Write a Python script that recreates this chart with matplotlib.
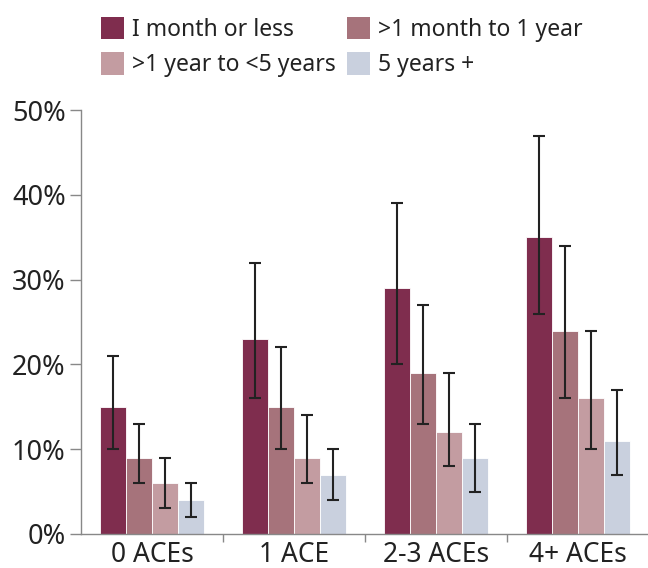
import numpy as np
import matplotlib.pyplot as plt
from matplotlib.patches import Patch

plt.rcParams['font.family'] = ['Noto Sans', 'DejaVu Sans']

groups = ['0 ACEs', '1 ACE', '2-3 ACEs', '4+ ACEs']
series = ['I month or less', '>1 month to 1 year', '>1 year to <5 years', '5 years +']
colors = ['#7f2d4e', '#a6737b', '#c39ca1', '#c9d0de']

values = [[15, 23, 29, 35],
          [9, 15, 19, 24],
          [6, 9, 12, 16],
          [4, 7, 9, 11]]
lower = [[10, 16, 20, 26],
         [6, 10, 13, 16],
         [3, 6, 8, 10],
         [2, 4, 5, 7]]
upper = [[21, 32, 39, 47],
         [13, 22, 27, 34],
         [9, 14, 19, 24],
         [6, 10, 13, 17]]

fig = plt.figure(figsize=(6.48, 5.68), dpi=100)
ax = fig.add_axes([0.125, 0.060, 0.877, 0.746])

x = np.arange(len(groups))
w = 0.183
for i in range(4):
    pos = x + (i - 1.5) * w
    v = np.array(values[i])
    err = [v - np.array(lower[i]), np.array(upper[i]) - v]
    ax.bar(pos, v, w, color=colors[i], edgecolor='white', linewidth=0.6, zorder=2)
    ax.errorbar(pos, v, yerr=err, fmt='none', ecolor='#222222', elinewidth=1.5,
                capsize=4.5, capthick=1.5, zorder=3)

ax.set_xlim(-0.5, 3.5)
ax.set_ylim(0, 50)
ax.set_yticks(np.arange(0, 51, 10))
ax.set_yticklabels([f'{t}%' for t in range(0, 51, 10)], fontsize=19.5, color='#222222')
ax.set_xticks(x)
ax.set_xticklabels(groups, fontsize=19, color='#222222')
ax.tick_params(axis='x', which='major', length=0, pad=5)
ax.set_xticks([0.5, 1.5, 2.5], minor=True)
ax.tick_params(axis='x', which='minor', length=6, color='#888888', width=1)
ax.tick_params(axis='y', length=8, color='#888888', width=1, pad=3)

for s in ['top', 'right']:
    ax.spines[s].set_visible(False)
for s in ['left', 'bottom']:
    ax.spines[s].set_color('#888888')
    ax.spines[s].set_linewidth(1)

# legend filled row by row
order = [0, 2, 1, 3]
handles = [Patch(facecolor=colors[k], edgecolor='none') for k in order]
labels = [series[k] for k in order]
fig.legend(handles, labels, loc='upper left', bbox_to_anchor=(0.128, 1.003), ncol=2,
           frameon=False, fontsize=16.5, handlelength=1.0, handleheight=1.15,
           handletextpad=0.35, columnspacing=0.5, labelspacing=0.45, borderpad=0.3,
           labelcolor='#222222')

fig.savefig('out.png', dpi=100)
